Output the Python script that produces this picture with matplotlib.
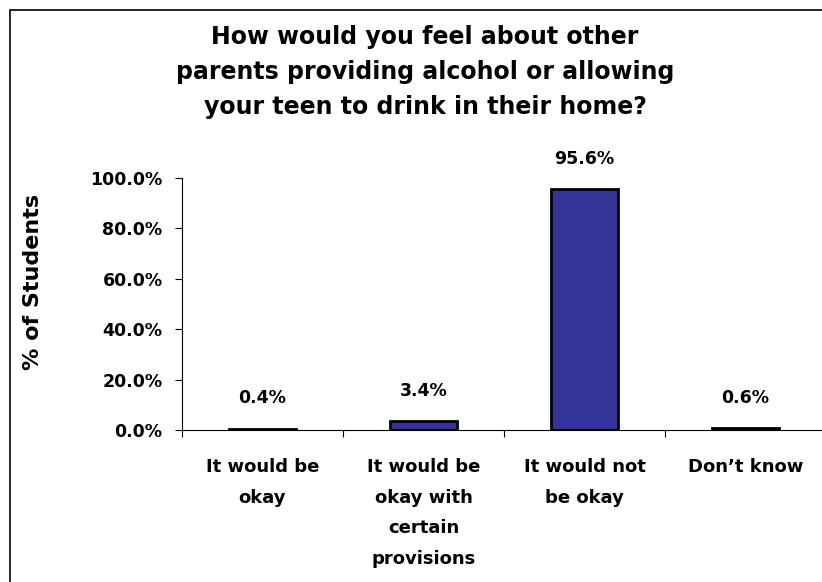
import matplotlib.pyplot as plt
from matplotlib.patches import Rectangle
from matplotlib.ticker import FuncFormatter
import numpy as np

plt.rcParams['font.family'] = ['DejaVu Sans']
plt.rcParams['font.weight'] = 'bold'

# Survey responses
categories = ['It would be\nokay', 'It would be\nokay with\ncertain\nprovisions',
              'It would not\nbe okay', 'Don\u2019t know']
percent = [0.4, 3.4, 95.6, 0.6]
yticks = [0, 20, 40, 60, 80, 100]

x = np.arange(len(categories))

fig = plt.figure(figsize=(8.22, 5.82), dpi=100)
ax = fig.add_axes([0.2214, 0.2612, 0.7835, 0.433])

# outer chart frame
fig.patches.append(Rectangle((10 / 822, -0.05), 1.1, 1 - 10 / 582 + 0.05,
                             transform=fig.transFigure, fill=False,
                             edgecolor='black', linewidth=1.2, clip_on=False))

bars = ax.bar(x, percent, width=0.42, color='#333399', edgecolor='black', linewidth=2.0)

ax.set_xlim(-0.5, len(categories) - 0.5)
ax.set_ylim(0, 100)
ax.set_yticks(yticks)
ax.yaxis.set_major_formatter(FuncFormatter(lambda v, p: f'{v:.1f}%'))
ax.tick_params(axis='y', labelsize=12.5, length=5, width=0.8, pad=9)

# category labels sit between the boundary ticks
ax.set_xticks(np.arange(len(categories) + 1) - 0.5)
ax.set_xticklabels([])
ax.tick_params(axis='x', length=5, width=0.8)
for xi, label in zip(x, categories):
    ax.text(xi, -11.2, label, ha='center', va='top', fontsize=13, fontweight='bold',
            linespacing=1.9, transform=ax.transData, clip_on=False)

for side in ['top', 'right']:
    ax.spines[side].set_visible(False)
ax.spines['left'].set_linewidth(0.8)
ax.spines['bottom'].set_linewidth(0.8)

for bar, val in zip(bars, percent):
    ax.annotate(f'{val:.1f}%', xy=(bar.get_x() + bar.get_width() / 2, val),
                xytext=(0, 22), textcoords='offset points',
                ha='center', va='center', fontsize=12.5, fontweight='bold',
                annotation_clip=False)

fig.text(33 / 822, 1 - 282 / 582, '% of Students', rotation=90, ha='center', va='center',
         fontsize=16, fontweight='bold')

fig.text(425 / 822, 1 - 72 / 582,
         'How would you feel about other\nparents providing alcohol or allowing\n'
         'your teen to drink in their home?',
         ha='center', va='center', fontsize=17, fontweight='bold', linespacing=1.6)

fig.savefig('out.png', dpi=100)
